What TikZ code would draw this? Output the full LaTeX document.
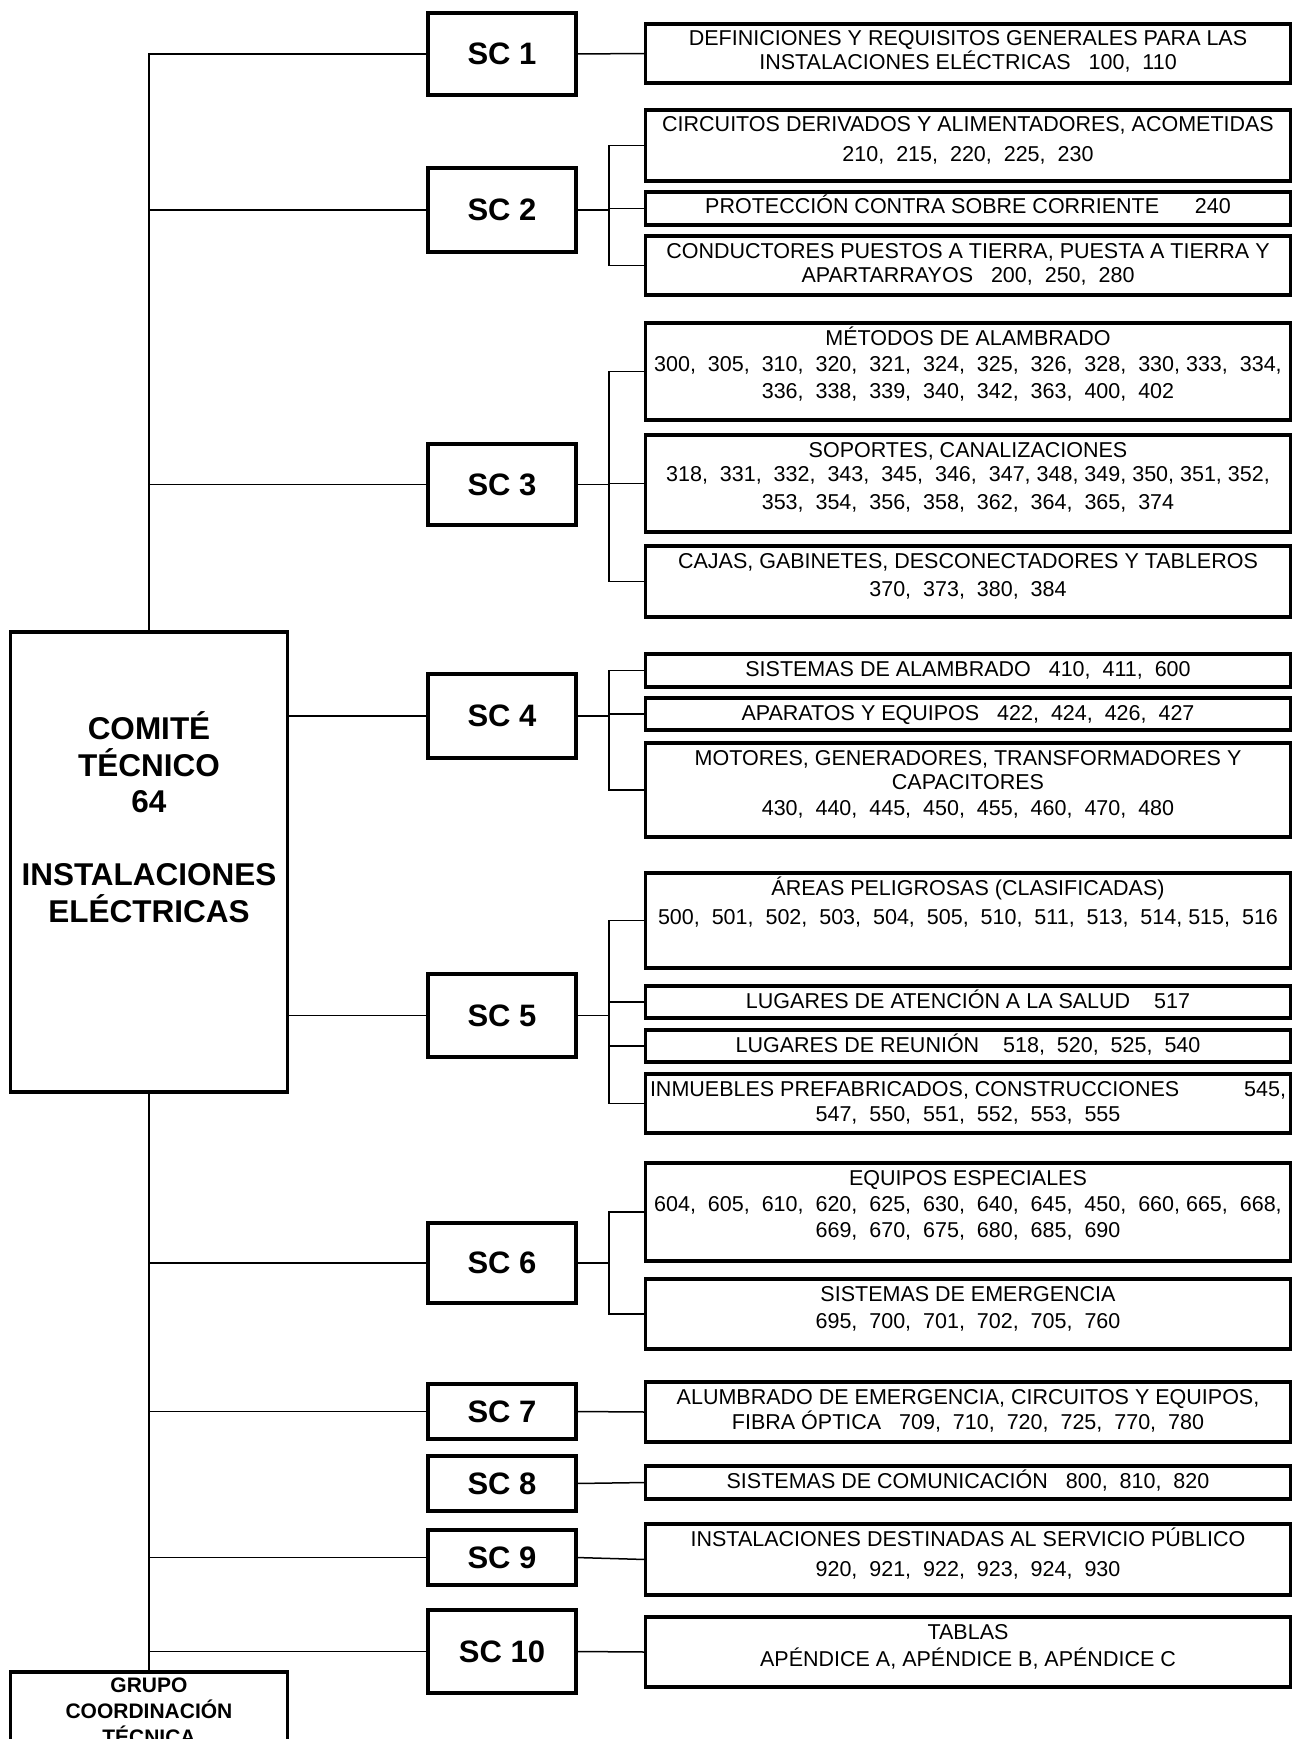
\documentclass[tikz,border=0pt]{standalone}
\usepackage{fontspec}
\setmainfont{Liberation Sans}
\usepackage{tikz}

\begin{document}
\begin{tikzpicture}[x=1pt,y=-1pt,
  cbox/.style={draw,line width=3.2pt,inner sep=0pt,outer sep=0pt},
  head/.style={cbox,anchor=north,minimum width=277pt,text width=270pt,align=flush center},
  sc/.style={cbox,minimum width=148pt,font=\fontsize{31}{36}\selectfont\bfseries},
  topic/.style={cbox,anchor=north,minimum width=645pt,text width=636pt,align=flush center,
    text height=22pt,font=\fontsize{21.5}{26}\selectfont},
  link/.style={line width=1.5pt}]
\useasboundingbox (0,0) rectangle (1294,1739);
\clip (0,0) rectangle (1294,1739);

\node[head,text height=107.5pt,text depth=352.5pt,font=\fontsize{31.5}{36.5}\selectfont\bfseries]
  (main) at (149,632) {COMITÉ\\TÉCNICO\\64\\[36.5pt]INSTALACIONES\\ELÉCTRICAS};
\node[head,text height=20.5pt,text depth=69pt,font=\fontsize{21}{26}\selectfont\bfseries]
  (grupo) at (149,1672) {GRUPO\\COORDINACIÓN\\TÉCNICA};

\node[sc,minimum height=82pt] (sc1) at (502,54) {SC 1};
\node[sc,minimum height=84pt] (sc2) at (502,210) {SC 2};
\node[sc,minimum height=81pt] (sc3) at (502,484.5) {SC 3};
\node[sc,minimum height=84pt] (sc4) at (502,716) {SC 4};
\node[sc,minimum height=83pt] (sc5) at (502,1015.5) {SC 5};
\node[sc,minimum height=80pt] (sc6) at (502,1263) {SC 6};
\node[sc,minimum height=55pt] (sc7) at (502,1411.5) {SC 7};
\node[sc,minimum height=55pt] (sc8) at (502,1483.5) {SC 8};
\node[sc,minimum height=55pt] (sc9) at (502,1557.5) {SC 9};
\node[sc,minimum height=83pt] (sc10) at (502,1651.5) {SC 10};

\node[topic,text depth=37pt] (def) at (968,24)
  {DEFINICIONES Y REQUISITOS GENERALES PARA LAS\\[-2pt]INSTALACIONES ELÉCTRICAS~~ 100,~ 110};
\node[topic,text depth=49pt] (circ) at (968,110)
  {CIRCUITOS DERIVADOS Y ALIMENTADORES, ACOMETIDAS\\[4pt]210,~ 215,~ 220,~ 225,~ 230};
\node[topic,text depth=11pt] (prot) at (968,192)
  {PROTECCIÓN CONTRA SOBRE CORRIENTE~~~~~ 240};
\node[topic,text depth=37pt] (cond) at (968,236)
  {CONDUCTORES PUESTOS A TIERRA, PUESTA A TIERRA Y\\[-2pt]APARTARRAYOS~~ 200,~ 250,~ 280};
\node[topic,text depth=75pt] (met) at (968,323)
  {MÉTODOS DE ALAMBRADO\\300,~ 305,~ 310,~ 320,~ 321,~ 324,~ 325,~ 326,~ 328,~ 330, 333,~ 334,\\[1pt]
   336,~ 338,~ 339,~ 340,~ 342,~ 363,~ 400,~ 402};
\node[topic,text depth=75pt] (sop) at (968,435)
  {SOPORTES, CANALIZACIONES\\[-2pt]318,~ 331,~ 332,~ 343,~ 345,~ 346,~ 347, 348, 349, 350, 351, 352,\\[2pt]
   353,~ 354,~ 356,~ 358,~ 362,~ 364,~ 365,~ 374};
\node[topic,text depth=49pt] (cajas) at (968,546)
  {CAJAS, GABINETES, DESCONECTADORES Y TABLEROS\\[2pt]370,~ 373,~ 380,~ 384};
\node[topic,text depth=11pt] (salam) at (968,654)
  {SISTEMAS DE ALAMBRADO~~ 410,~ 411,~ 600};
\node[topic,text depth=10pt] (apar) at (968,698)
  {APARATOS Y EQUIPOS~~ 422,~ 424,~ 426,~ 427};
\node[topic,text depth=72pt] (mot) at (968,743)
  {MOTORES, GENERADORES, TRANSFORMADORES Y\\[-2pt]CAPACITORES\\430,~ 440,~ 445,~ 450,~ 455,~ 460,~ 470,~ 480};
\node[topic,text depth=73pt] (areas) at (968,873)
  {ÁREAS PELIGROSAS (CLASIFICADAS)\\[3pt]500,~ 501,~ 502,~ 503,~ 504,~ 505,~ 510,~ 511,~ 513,~ 514, 515,~ 516};
\node[topic,text depth=10pt] (salud) at (968,986)
  {LUGARES DE ATENCIÓN A LA SALUD~~~ 517};
\node[topic,text depth=10pt] (reun) at (968,1030)
  {LUGARES DE REUNIÓN~~~ 518,~ 520,~ 525,~ 540};
\node[topic,text depth=37pt] (inm) at (968,1074)
  {INMUEBLES PREFABRICADOS, CONSTRUCCIONES\hfill 545,\\[-1pt]547,~ 550,~ 551,~ 552,~ 553,~ 555};
\node[topic,text depth=76pt] (eqesp) at (968,1163)
  {EQUIPOS ESPECIALES\\604,~ 605,~ 610,~ 620,~ 625,~ 630,~ 640,~ 645,~ 450,~ 660, 665,~ 668,\\
   669,~ 670,~ 675,~ 680,~ 685,~ 690};
\node[topic,text depth=48pt] (semer) at (968,1279)
  {SISTEMAS DE EMERGENCIA\\[1pt]695,~ 700,~ 701,~ 702,~ 705,~ 760};
\node[topic,text depth=38pt] (alum) at (968,1382)
  {ALUMBRADO DE EMERGENCIA, CIRCUITOS Y EQUIPOS,\\[-1pt]FIBRA ÓPTICA~~ 709,~ 710,~ 720,~ 725,~ 770,~ 780};
\node[topic,text depth=11pt] (comun) at (968,1466)
  {SISTEMAS DE COMUNICACIÓN~~ 800,~ 810,~ 820};
\node[topic,text depth=49pt] (inst) at (968,1524)
  {INSTALACIONES DESTINADAS AL SERVICIO PÚBLICO\\[4pt]920,~ 921,~ 922,~ 923,~ 924,~ 930};
\node[topic,text depth=48pt] (tab) at (968,1617)
  {TABLAS\\[1pt]APÉNDICE A, APÉNDICE B, APÉNDICE C};

\coordinate (bus) at (609,0);

\draw[link] (sc1.west) -| (main.north);
\foreach \s in {sc2,sc3}
  \draw[link] (\s.west -| main.north) -- (\s.west);
\foreach \s in {sc4,sc5}
  \draw[link] (\s.west -| main.east) -- (\s.west);
\draw[link] (main.south) -- (grupo.north);
\foreach \s in {sc6,sc7,sc9,sc10}
  \draw[link] (\s.west -| main.south) -- (\s.west);

\foreach \s/\t in {sc1/def,sc7/alum,sc8/comun,sc9/inst,sc10/tab}
  \draw[link] (\s.east) -- (\t.west);
\foreach \s in {sc2,sc3,sc4,sc5,sc6}
  \draw[link] (\s.east) -- (\s.east -| bus);
\foreach \a/\b in {circ/cond,met/cajas,salam/mot,areas/inm,eqesp/semer}
  \draw[link] (\a.west) -- (\a.west -| bus) -- (\b.west -| bus) -- (\b.west);
\foreach \m in {prot,sop,apar,salud,reun}
  \draw[link] (\m.west -| bus) -- (\m.west);
\end{tikzpicture}
\end{document}
